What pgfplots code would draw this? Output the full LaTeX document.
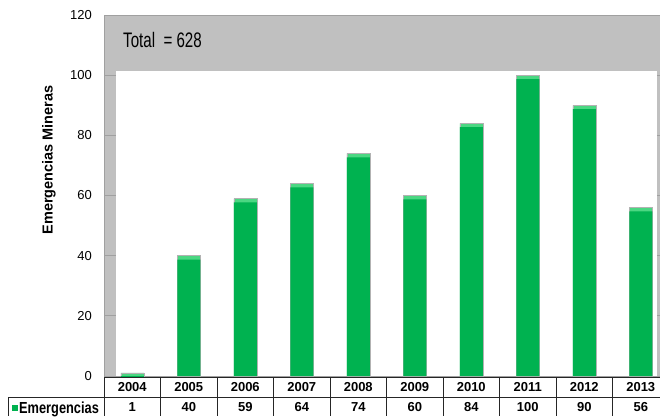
\documentclass[border=0pt]{standalone}
\usepackage{pgfplots}
\pgfplotsset{compat=1.18}
\usepackage{pgfplotstable}
\usepackage{fontspec}
\usepackage{graphicx}
\setmainfont{Liberation Sans}
\definecolor{wallgray}{RGB}{192,192,192}
\definecolor{bargreen}{RGB}{0,178,80}
\definecolor{capgreen}{RGB}{75,215,130}
\definecolor{bordergray}{RGB}{160,160,160}
\pgfplotstableread{
x year v
0 2004 1
1 2005 40
2 2006 59
3 2007 64
4 2008 74
5 2009 60
6 2010 84
7 2011 100
8 2012 90
9 2013 56
}\datatable
\begin{document}
\begin{tikzpicture}
\useasboundingbox (0pt,0pt) rectangle (660pt,416pt);
\clip (0pt,0pt) rectangle (660pt,416pt);
\begin{axis}[
  at={(104pt,40pt)}, anchor=south west,
  scale only axis, width=565pt, height=361pt,
  xmin=-0.5, xmax=9.5, ymin=0, ymax=120,
  axis background/.style={fill=wallgray},
  axis line style={draw=bordergray, line width=0.8pt},
  ytick={0,20,...,120},
  xtick={0,...,9},
  xticklabels={{2004\\1},{2005\\40},{2006\\59},{2007\\64},{2008\\74},{2009\\60},{2010\\84},{2011\\100},{2012\\90},{2013\\56}},
  xticklabel style={font=\fontsize{13}{20}\selectfont\bfseries, align=center, inner sep=0pt, yshift=6pt},
  xtick style={draw=none},
  yticklabel style={font=\fontsize{13}{15}\selectfont, inner sep=0pt, xshift=-12pt},
  ytick style={draw=bordergray, line width=0.8pt},
  major tick length=12pt, tick align=inside,
  /pgf/number format/assume math mode=true,
  ybar, bar width=23pt, bar shift=0pt,
]
\fill[white] (axis cs:-0.288,0) rectangle (axis cs:9.29,101.5);
\addplot[ybar, bar shift=0pt, fill=capgreen, draw=black!30, line width=0.4pt] table[x=x, y=v] {\datatable};
\addplot[ybar, bar shift=0pt, fill=bargreen, draw=none] table[x=x, y expr=\thisrow{v}-1.3] {\datatable};
\end{axis}
% table grid
\draw[black!85, line width=0.8pt] (104pt,39pt) -- (660pt,39pt);
\draw[black!85, line width=0.8pt] (8pt,19pt) -- (660pt,19pt);
\draw[black!85, line width=0.8pt] (8pt,19pt) -- (8pt,0pt);
\foreach \k in {0,...,9} {
  \draw[black!85, line width=0.8pt] ({104pt+56.5pt*\k},39pt) -- ({104pt+56.5pt*\k},0pt);
}
\node[anchor=base west, inner sep=0pt] at (12pt,3pt) {\raisebox{2pt}{\textcolor{bargreen}{\rule{6pt}{6pt}}}\kern1pt\scalebox{0.8}[1]{\fontsize{16}{18}\selectfont\bfseries Emergencias}};
\node[rotate=90, inner sep=0pt, font=\fontsize{14.5}{16}\selectfont\bfseries] at (49pt,256pt) {Emergencias Mineras};
\node[anchor=base west, inner sep=0pt, font=\fontsize{21}{24}\selectfont] at (123pt,368pt) {\scalebox{0.72}[1]{Total\ \ = 628}};
\end{tikzpicture}
\end{document}
